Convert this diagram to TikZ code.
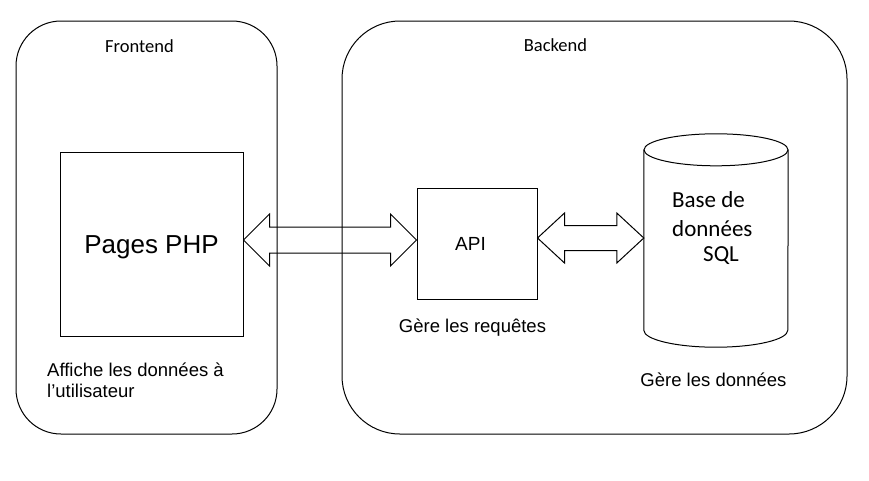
\documentclass[tikz,border=0pt]{standalone}
\usepackage{fontspec}
\usetikzlibrary{calc}
\newfontfamily\calfont{Carlito}
\newfontfamily\arifont{Liberation Sans}
\newcommand{\dbarrow}[5]{%
  \draw[arrowline] (#1) -- ($(#1)+(#3,-#4)$) -- ($(#1)+(#3,-#5)$) -- ($(#2)+(-#3,-#5)$) -- ($(#2)+(-#3,-#4)$) -- (#2)
   -- ($(#2)+(-#3,#4)$) -- ($(#2)+(-#3,#5)$) -- ($(#1)+(#3,#5)$) -- ($(#1)+(#3,#4)$) -- cycle;}
\tikzset{
  lw/.style={line width=1pt, draw=black},
  zone/.style={lw, draw, minimum width=#1, inner sep=0pt, minimum height=413pt},
  box/.style={lw, draw, inner sep=0pt},
  arrowline/.style={lw, line join=miter},
  cal/.style={font=\calfont\fontsize{18.5}{22}\selectfont, inner sep=0pt},
  ari/.style={font=\arifont\fontsize{18.5}{21}\selectfont, inner sep=0pt},
}
\begin{document}
\begin{tikzpicture}[x=1pt,y=-1pt]
\useasboundingbox[fill=white] (0,0) rectangle (869,480);
% zones
\node[zone=261pt, rounded corners=45pt] (front) at (146.5,227.5) {};
\node[zone=505pt, rounded corners=58pt] (back) at (594.5,227.5) {};
\node[cal, anchor=base] (frontlbl) at (139.5,52.5) {Frontend};
\node[cal, anchor=base] (backlbl) at (555.5,51) {Backend};
% boxes
\node[box, minimum width=183pt, minimum height=184pt] (php) at (151.5,244) {};
\node[ari, font=\arifont\fontsize{26}{30}\selectfont, anchor=base] (phplbl) at (151.5,253) {Pages PHP};
\node[box, minimum width=120pt, minimum height=111pt] (api) at (477,243.5) {};
\node[ari, font=\arifont\fontsize{19}{22}\selectfont, anchor=base] (apilbl) at (470.5,250.5) {API};
% database cylinder
\node[inner sep=0pt, minimum width=144pt, minimum height=180pt] (db) at (716,240) {};
\draw[lw] (db.north west) -- (db.south west) arc[start angle=180, end angle=360, x radius=72pt, y radius=17pt] -- (db.north east);
\draw[lw] (db.north) ellipse [x radius=72pt, y radius=16pt];
\node[cal, font=\calfont\fontsize{23}{28}\selectfont, anchor=base west] (db1) at (672,207.5) {Base de};
\node[cal, font=\calfont\fontsize{23}{28}\selectfont, anchor=base west] (db2) at (672,236) {données};
\node[cal, font=\calfont\fontsize{23}{28}\selectfont, anchor=base west] (db3) at (703,261) {SQL};
% captions
\node[ari, anchor=base] (reqlbl) at (472.5,332.5) {Gère les requêtes};
\node[ari, anchor=base] (datalbl) at (713.5,386) {Gère les données};
\node[ari, anchor=base west] (aff1) at (47,376) {Affiche les données à};
\node[ari, anchor=base west] (aff2) at (47,397) {l’utilisateur};
% double arrows
\path (php.east) ++(0,-4) coordinate (t1l);
\coordinate (t1r) at (api.west |- t1l);
\dbarrow{t1l}{t1r}{26}{26}{13}
\path (api.east) ++(0,-5.5) coordinate (t2l);
\coordinate (t2r) at (db.west |- t2l);
\dbarrow{t2l}{t2r}{27}{25}{12.5}
\end{tikzpicture}
\end{document}
